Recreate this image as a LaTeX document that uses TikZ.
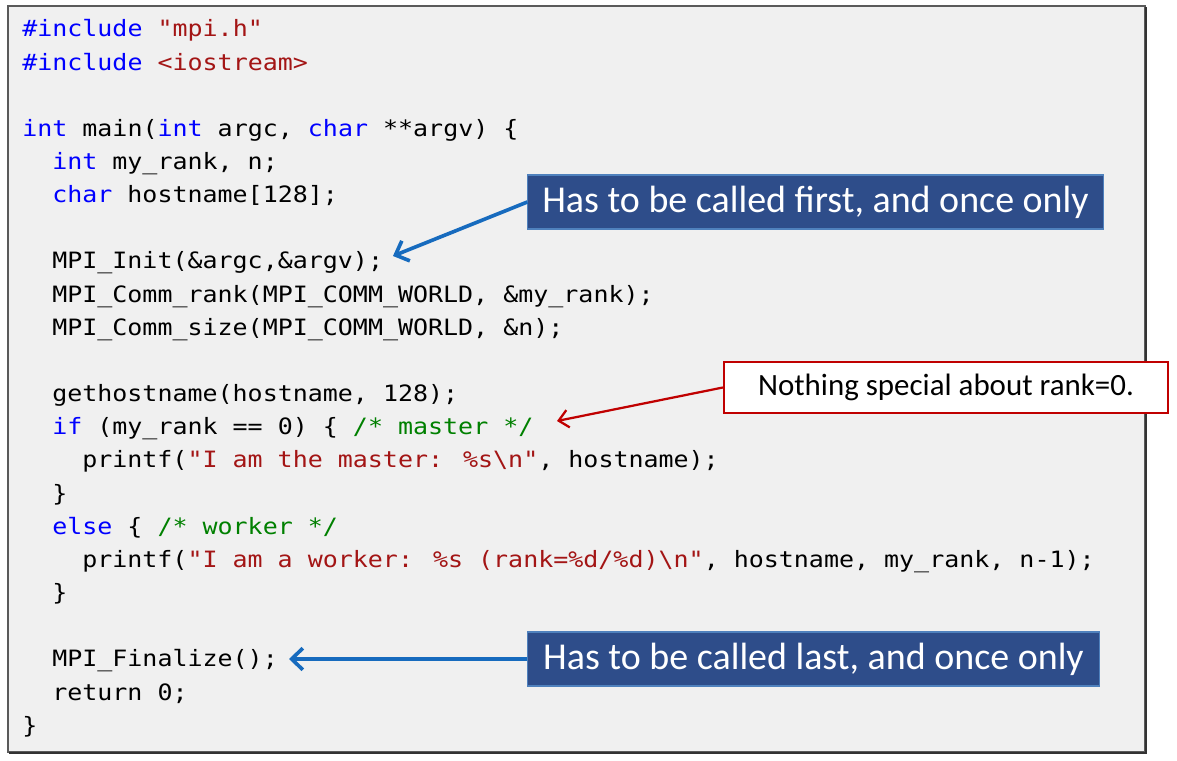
\documentclass[tikz,border=0pt]{standalone}
\usepackage{fontspec}
\usepackage{xcolor}
\usetikzlibrary{arrows.meta}
\setmainfont{Carlito}
\newfontfamily\codefont[FakeStretch=1.11]{DejaVu Sans Mono}
\definecolor{kwblue}{RGB}{0,0,255}
\definecolor{strred}{RGB}{163,21,21}
\definecolor{cmtgreen}{RGB}{0,128,0}
\definecolor{boxgray}{RGB}{240,240,240}
\definecolor{boxedge}{RGB}{90,90,90}
\definecolor{calloutblue}{RGB}{46,77,138}
\definecolor{calloutedge}{RGB}{79,129,189}
\definecolor{arrowblue}{RGB}{23,107,190}
\definecolor{arrowred}{RGB}{192,0,0}
\newcommand{\kw}[1]{\textcolor{kwblue}{#1}}
\newcommand{\lit}[1]{\textcolor{strred}{#1}}
\newcommand{\cmt}[1]{\textcolor{cmtgreen}{#1}}

\begin{document}
\begin{tikzpicture}[
                    x=0.025cm, y=-0.025cm,
                    code/.style={anchor=base west, inner sep=0pt, font=\codefont\fontsize{16pt}{19pt}\selectfont},
                    bluebox/.style={rectangle, draw=calloutedge, fill=calloutblue, line width=0.8pt, text=white, minimum height=1.35cm, inner sep=0pt, font=\fontsize{27pt}{32pt}\selectfont},
                    redbox/.style={rectangle, draw=arrowred, fill=white, line width=1.5pt, minimum width=11.1cm, minimum height=1.275cm, inner sep=0pt, font=\fontsize{22pt}{26pt}\selectfont},
                    bluearrow/.style={draw=arrowblue, line width=2.6pt, -{Straight Barb[length=2.8mm, width=5.4mm]}},
                    redarrow/.style={draw=arrowred, line width=1.6pt, -{Straight Barb[length=2.4mm, width=4.4mm]}},
                ]
                \useasboundingbox (0,0) rectangle (1177,761);
                \fill[boxgray] (8,6) rectangle (1145,752);
                \draw[boxedge, line width=1.2pt] (8,6) rectangle (1145,752);
                \draw[black!80, line width=1.2pt] (9,753) -- (1146,753) -- (1146,7);

                \node[code] (l1) at (22,36.7) {\kw{\#include} \lit{"mpi.h"}};
                \node[code] (l2) at (22,70.5) {\kw{\#include} \lit{<iostream>}};
                \node[code] (l4) at (22,136.8) {\kw{int} main(\kw{int} argc, \kw{char} **argv) \{};
                \node[code] (l5) at (52,169.8) {\kw{int} my\_rank, n;};
                \node[code] (l6) at (52,202.8) {\kw{char} hostname[128];};
                \node[code] (l8) at (52,268.9) {MPI\_Init(\&argc,\&argv);};
                \node[code] (l9) at (52,302.1) {MPI\_Comm\_rank(MPI\_COMM\_WORLD, \&my\_rank);};
                \node[code] (l10) at (52,335.2) {MPI\_Comm\_size(MPI\_COMM\_WORLD, \&n);};
                \node[code] (l12) at (52,401.6) {gethostname(hostname, 128);};
                \node[code] (l13) at (52,434.7) {\kw{if} (my\_rank == 0) \{ \cmt{/* master */}};
                \node[code] (l14) at (82,467.9) {printf(\lit{"I am the master: \%s\textbackslash n"}, hostname);};
                \node[code] (l15) at (52,501.1) {\}};
                \node[code] (l16) at (52,534.2) {\kw{else} \{ \cmt{/* worker */}};
                \node[code] (l17) at (82,567.4) {printf(\lit{"I am a worker: \%s (rank=\%d/\%d)\textbackslash n"}, hostname, my\_rank, n-1);};
                \node[code] (l18) at (52,600.6) {\}};
                \node[code] (l20) at (52,666.9) {MPI\_Finalize();};
                \node[code] (l21) at (52,700.1) {return 0;};
                \node[code] (l22) at (22,733.3) {\}};

                \node[bluebox, minimum width=14.375cm] (first) at (815.5,202) {Has to be called first, and once only};
                \node[redbox] (rankzero) at (946,387.5) {Nothing special about rank=0.};
                \node[bluebox, minimum width=14.275cm] (last) at (813.5,659) {Has to be called last, and once only};

                \coordinate (initend) at (393,256);
                \coordinate (masterend) at (557,421);
                \coordinate (finalend) at (289,659);

                \draw[bluearrow] (first.west) -- (initend);
                \draw[redarrow] (rankzero.west) -- (masterend);
                \draw[bluearrow] (last.west) -- (finalend);
            \end{tikzpicture}
\end{document}
